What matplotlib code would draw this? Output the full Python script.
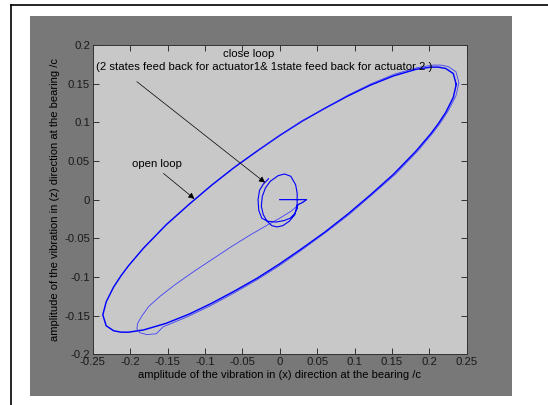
import matplotlib
matplotlib.use("Agg")
import matplotlib.pyplot as plt
from matplotlib.patches import Rectangle
from matplotlib.lines import Line2D

plt.rcParams['font.family'] = ['Liberation Sans', 'DejaVu Sans']

# steady-state orbit (open loop)
cycle_x = [0.236, 0.232, 0.222, 0.212, 0.202, 0.182, 0.152, 0.121, 0.091, 0.061, 0.030, 0.000,
           -0.030, -0.061, -0.091, -0.121, -0.152, -0.182, -0.202, -0.212, -0.222, -0.232, -0.2365,
           -0.232, -0.222, -0.212, -0.202, -0.182, -0.152, -0.121, -0.091, -0.061, -0.030, 0.000,
           0.030, 0.061, 0.091, 0.121, 0.152, 0.182, 0.202, 0.212, 0.222, 0.232, 0.236]
cycle_y = [0.149, 0.1631, 0.1696, 0.1714, 0.1714, 0.1685, 0.160, 0.148, 0.134, 0.1185, 0.1015, 0.083,
           0.063, 0.0415, 0.0187, -0.0059, -0.0327, -0.0626, -0.0853, -0.0982, -0.1129, -0.1322, -0.149,
           -0.1631, -0.1696, -0.1714, -0.1714, -0.1685, -0.160, -0.148, -0.134, -0.1185, -0.1015, -0.083,
           -0.063, -0.0415, -0.0187, 0.0059, 0.0327, 0.0626, 0.0853, 0.0982, 0.1129, 0.1322, 0.149]

# open loop transient: from the origin out to the orbit (first lap)
trans_x = [0.000, 0.036, 0.026, 0.015, 0.000, -0.015, -0.040, -0.065, -0.090, -0.115, -0.140, -0.160,
           -0.175, -0.184, -0.190, -0.191, -0.187, -0.178, -0.165, -0.156, -0.124, -0.093, -0.0625,
           -0.031, 0.000, 0.031, 0.062, 0.093, 0.123, 0.155, 0.185, 0.205, 0.215, 0.225, 0.2355,
           0.2395, 0.2355, 0.225, 0.215, 0.205, 0.185, 0.154, 0.1225, 0.092, 0.062, 0.030, 0.000, -0.030]
trans_y = [0.000, 0.000, -0.006, -0.015, -0.024, -0.032, -0.046, -0.061, -0.077, -0.093, -0.110, -0.125,
           -0.138, -0.150, -0.160, -0.167, -0.172, -0.1745, -0.1735, -0.1645, -0.1517, -0.1374, -0.1215,
           -0.104, -0.0851, -0.064, -0.0421, -0.019, 0.006, 0.0332, 0.0635, 0.0866, 0.0995, 0.1145, 0.134,
           0.1512, 0.1655, 0.1722, 0.174, 0.174, 0.171, 0.1625, 0.150, 0.1355, 0.119, 0.102, 0.083, 0.063]

# close loop (2 + 1 state feedback)
close_x = [0.000, 0.036, 0.030, 0.023, 0.0203, 0.0127, 0.0042, -0.0034, -0.0106, -0.0169, -0.0220,
           -0.0246, -0.0233, -0.0191, -0.0127, -0.0021, 0.0064, 0.0148, 0.0212, 0.0233, 0.0233, 0.0237,
           0.020, 0.014, 0.006, -0.005, -0.016, -0.024, -0.028, -0.029, -0.027, -0.022, -0.015]
close_y = [0.000, 0.000, -0.004, -0.007, -0.0194, -0.0280, -0.0336, -0.0353, -0.0336, -0.0280, -0.0194,
           -0.0086, 0.0043, 0.0151, 0.0237, 0.0310, 0.0332, 0.0302, 0.0194, 0.0086, -0.0043, -0.0108,
           -0.018, -0.024, -0.027, -0.029, -0.028, -0.024, -0.014, 0.000, 0.012, 0.020, 0.027]

x_ticks = [-0.25, -0.2, -0.15, -0.1, -0.05, 0, 0.05, 0.1, 0.15, 0.2, 0.25]
x_tick_labels = ['-0.25', '-0.2', '-0.15', '-0.1', '-0.05', '0', '0.05', '0.1', '0.15', '0.2', '0.25']
y_ticks = [-0.2, -0.15, -0.1, -0.05, 0, 0.05, 0.1, 0.15, 0.2]
y_tick_labels = ['-0.2', '-0.15', '-0.1', '-0.05', '0', '0.05', '0.1', '0.15', '0.2']

fig = plt.figure(figsize=(5.48, 4.05), dpi=100, facecolor='white')

# grey matlab figure panel + black frame lines (behind the axes)
fig.patches.append(Rectangle((0.054, 0.023), 0.881, 0.938, transform=fig.transFigure,
                             facecolor='#787878', edgecolor='none', zorder=-5))
fig.lines.append(Line2D([0.020, 0.020], [0.0, 0.988], transform=fig.transFigure,
                        color='black', lw=1.2, zorder=-5))
fig.lines.append(Line2D([0.020, 1.0], [0.988, 0.988], transform=fig.transFigure,
                        color='black', lw=1.2, zorder=-5))

ax = fig.add_axes([0.1692, 0.1252, 0.6825, 0.7637])
ax.set_facecolor('#c8c8c8')

ax.plot(cycle_x, cycle_y, color='#0000ff', lw=1.05)
ax.plot(trans_x, trans_y, color='#2828ff', lw=0.6, alpha=0.85)
ax.plot(close_x, close_y, color='#0000ff', lw=0.8)

ax.set_xlim(-0.25, 0.25)
ax.set_ylim(-0.2, 0.2)
ax.set_xticks(x_ticks)
ax.set_xticklabels(x_tick_labels)
ax.set_yticks(y_ticks)
ax.set_yticklabels(y_tick_labels)
ax.tick_params(direction='in', top=True, right=True, length=4, width=0.6,
               labelsize=8.2, pad=2, colors='#1a1a1a')
for s in ax.spines.values():
    s.set_linewidth(0.7)
    s.set_color('#333333')

ax.set_xlabel("amplitude of the vibration in (x) direction at the bearing /c", fontsize=8, labelpad=2)
ax.set_ylabel("amplitude of the vibration in (z) direction at the bearing /c", fontsize=8, labelpad=3)

# annotations
ax.text(-0.042, 0.189, "close loop", ha='center', va='center', fontsize=8.2)
ax.text(-0.021, 0.171, "(2 states feed back for actuator1& 1state feed back for actuator 2 )",
        ha='center', va='center', fontsize=8.2)
ax.annotate("", xy=(-0.0196, 0.022), xytext=(-0.191, 0.1526),
            arrowprops=dict(arrowstyle='-|>', color='black', lw=0.5, mutation_scale=9,
                            shrinkA=0, shrinkB=0))
ax.text(-0.164, 0.046, "open loop", ha='center', va='center', fontsize=8.2)
ax.annotate("", xy=(-0.114, 0.001), xytext=(-0.1555, 0.034),
            arrowprops=dict(arrowstyle='-|>', color='black', lw=0.5, mutation_scale=9,
                            shrinkA=0, shrinkB=0))

plt.savefig('out.png', dpi=100, facecolor='white')
